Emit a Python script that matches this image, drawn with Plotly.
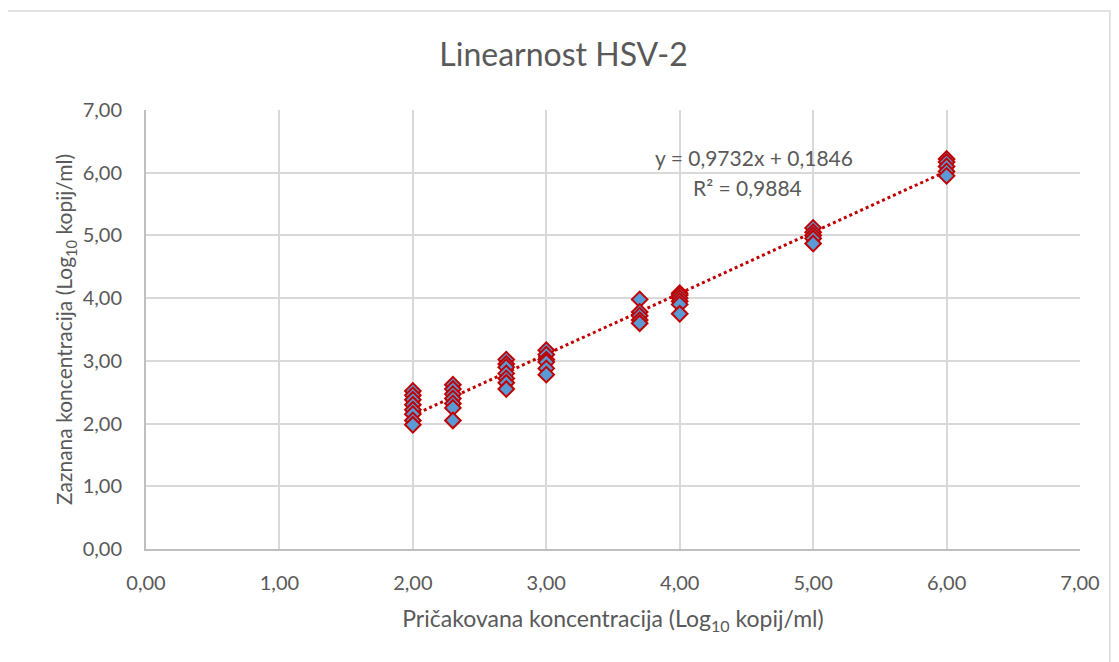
import plotly.graph_objects as go
import numpy as np

# Expected concentration (log10 copies/ml) per group and observed values
expected_levels = [2.0, 2.3, 2.7, 3.0, 3.7, 4.0, 5.0, 6.0]
observed_by_level = [
    [2.52, 2.45, 2.38, 2.30, 2.22, 2.15, 2.05, 1.98],
    [2.62, 2.55, 2.47, 2.40, 2.32, 2.25, 2.05],
    [3.02, 2.95, 2.90, 2.80, 2.72, 2.65, 2.55],
    [3.17, 3.10, 3.02, 2.98, 2.88, 2.78],
    [3.98, 3.78, 3.72, 3.65, 3.60],
    [4.08, 4.05, 4.00, 3.95, 3.90, 3.75],
    [5.12, 5.05, 5.00, 4.95, 4.87],
    [6.22, 6.17, 6.10, 6.02, 5.95],
]
slope = 0.9732
intercept = 0.1846
r_squared = 0.9884
tick_vals = [0, 1, 2, 3, 4, 5, 6, 7]

xs, ys = [], []
for lvl, obs in zip(expected_levels, observed_by_level):
    for v in obs:
        xs.append(lvl)
        ys.append(v)

font_family = "Lato, 'Open Sans', sans-serif"
grey = "#595959"
grid = "#d9d9d9"

fig = go.Figure()
x_fit = np.array([min(expected_levels), max(expected_levels)])
fig.add_trace(go.Scatter(
    x=x_fit, y=slope * x_fit + intercept, mode="lines",
    line=dict(color="#C00000", width=3, dash="dot"),
    hoverinfo="skip", showlegend=False))
fig.add_trace(go.Scatter(
    x=xs, y=ys, mode="markers",
    marker=dict(symbol="diamond", size=12, color="#5B9BD5",
                line=dict(color="#C00000", width=2)),
    showlegend=False))

fig.add_annotation(
    x=4.56, y=6.24, xref="x", yref="y", showarrow=False,
    text=f"y = {slope:.4f}x + {intercept:.4f}".replace(".", ","),
    font=dict(family=font_family, size=21, color=grey))
fig.add_annotation(
    x=4.51, y=5.76, xref="x", yref="y", showarrow=False,
    text=f"R² = {r_squared:.4f}".replace(".", ","),
    font=dict(family=font_family, size=21, color=grey))

# outer chart border
fig.add_shape(type="rect", xref="paper", yref="paper",
              x0=-0.1488, x1=1.032, y0=-0.26, y1=1.2255,
              line=dict(color="#d9d9d9", width=1.5), layer="below")

axis_common = dict(
    range=[0, 7], tickvals=tick_vals, tickformat=".2f",
    showgrid=True, gridcolor=grid, gridwidth=2,
    zeroline=False, showline=True, linecolor="#bfbfbf", linewidth=2,
    tickfont=dict(family=font_family, size=20, color=grey),
    ticks="", fixedrange=True)

fig.update_layout(
    width=1111, height=654,
    margin=dict(l=138, r=39, t=102, b=113),
    paper_bgcolor="white", plot_bgcolor="white",
    separators=", ",
    title=dict(text="Linearnost HSV-2", x=0.5, xanchor="center",
               y=0.928, yanchor="middle",
               font=dict(family=font_family, size=32, color=grey)),
    xaxis=dict(axis_common, ticklabelstandoff=15,
               title=dict(text="Pričakovana koncentracija (Log<sub>10</sub> kopij/ml)",
                          font=dict(family=font_family, size=23, color=grey),
                          standoff=18)),
    yaxis=dict(axis_common, ticklabelstandoff=18,
               title=dict(text="Zaznana koncentracija (Log<sub>10</sub> kopij/ml)",
                          font=dict(family=font_family, size=21, color=grey),
                          standoff=4)),
)

fig.write_html("out.html")
